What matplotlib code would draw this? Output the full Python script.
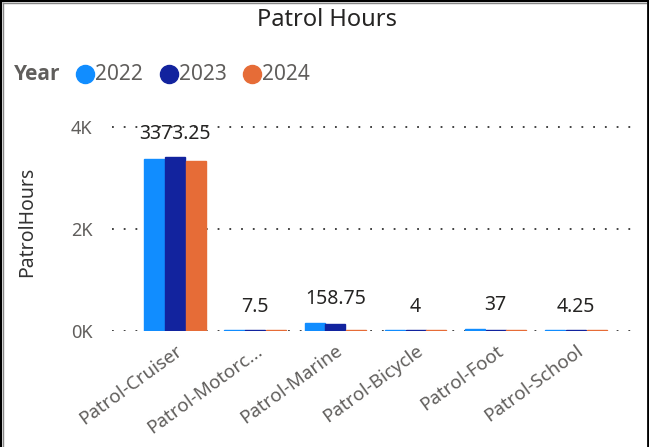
import numpy as np
import matplotlib
matplotlib.use("Agg")
import matplotlib.pyplot as plt
from matplotlib.lines import Line2D

plt.rcParams['font.family'] = ['Noto Sans', 'DejaVu Sans']

# data
categories = ['Patrol-Cruiser', 'Patrol-Motorc...', 'Patrol-Marine',
              'Patrol-Bicycle', 'Patrol-Foot', 'Patrol-School']
years = ['2022', '2023', '2024']
hours_2022 = [3373.25, 7.5, 158.75, 4, 37, 4.25]
hours_2023 = [3410, 6, 125, 5, 4, 5]
hours_2024 = [3345, 5, 4, 6, 7, 5]
colors = ['#118DFF', '#12239E', '#E66C37']
yticks = [0, 2000, 4000]
ytick_labels = ['0K', '2K', '4K']

series = [hours_2022, hours_2023, hours_2024]

W, H = 649, 447
fig = plt.figure(figsize=(W / 100, H / 100), dpi=100)
fig.patch.set_facecolor('white')

# plot area in pixel terms
left, right, zero_y, top_y = 112, 636, 330.7, 114.6
ax = fig.add_axes([left / W, 1 - zero_y / H, (right - left) / W, (zero_y - top_y) / H])

x = np.arange(len(categories))
bw = 0.25
for i, (vals, c) in enumerate(zip(series, colors)):
    ax.bar(x + (i - 1) * 0.258, vals, width=bw, color=c, edgecolor=c,
           linewidth=1.0, zorder=3)

# data labels (2022 values) above each group
for xi, v in enumerate(hours_2022):
    top = max(s[xi] for s in series)
    ax.annotate(f'{v:g}', (xi, top), xytext=(0, 17), textcoords='offset points',
                ha='center', va='center', fontsize=14, color='#252423')

ax.set_xlim(-0.786, 5.75)
ax.set_ylim(0, 4250)
ax.set_yticks(yticks)
ax.set_yticklabels(ytick_labels)
ax.tick_params(axis='y', length=0, pad=14, labelsize=13, labelcolor='#605E5C')
ax.set_xticks(x)
ax.set_xticklabels(categories, rotation=36, ha='right', rotation_mode='anchor',
                   fontsize=13.5, color='#605E5C')
ax.tick_params(axis='x', length=0, pad=8)
for s in ax.spines.values():
    s.set_visible(False)
ax.set_axisbelow(True)
ax.yaxis.grid(True, color='#333333', linewidth=1.3, linestyle=(0, (1, 5.5)))
ax.xaxis.grid(False)

# titles
fig.text(327 / W, 1 - 20 / H, 'Patrol Hours', ha='center', va='center',
         fontsize=17, color='#252423')
fig.text(27 / W, 1 - 222 / H, 'PatrolHours', rotation=90, ha='center', va='center',
         fontsize=14, color='#333333')

# legend
ly = 1 - 74 / H
fig.text(14 / W, ly, 'Year', ha='left', va='center', fontsize=15,
         fontweight='bold', color='#605E5C', family=['Open Sans', 'DejaVu Sans'])
for xm, yr, c in zip([85, 169, 252], years, colors):
    fig.add_artist(Line2D([xm / W], [ly], marker='o', markersize=13, color=c,
                          linestyle='none', transform=fig.transFigure))
    fig.text((xm + 10) / W, ly, yr, ha='left', va='center', fontsize=15,
             color='#605E5C')

# frame around the visual
fig.add_artist(Line2D([1 / W, 1 / W], [0, 1], color='black', linewidth=1.6,
                      transform=fig.transFigure))
fig.add_artist(Line2D([3 / W, 3 / W], [0, 1 - 3 / H], color='#888888', linewidth=1.0,
                      transform=fig.transFigure))
fig.add_artist(Line2D([0, 1], [1 - 1 / H, 1 - 1 / H], color='black', linewidth=1.6,
                      transform=fig.transFigure))
fig.add_artist(Line2D([3 / W, 1 - 3 / W], [1 - 3 / H, 1 - 3 / H], color='#888888',
                      linewidth=1.0, transform=fig.transFigure))
fig.add_artist(Line2D([1 - 1 / W, 1 - 1 / W], [0, 1], color='black', linewidth=2.0,
                      transform=fig.transFigure))

fig.savefig('out.png', dpi=100)
